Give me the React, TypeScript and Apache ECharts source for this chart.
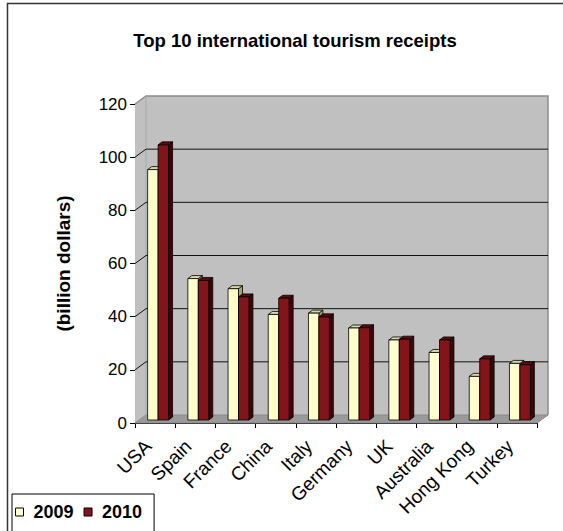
import React, { useEffect, useRef } from "react";
import * as echarts from "echarts";

// Receipts in billions of US dollars
const countries = ["USA", "Spain", "France", "China", "Italy", "Germany", "UK", "Australia", "Hong Kong", "Turkey"];
const receipts2009 = [94.2, 53.2, 49.4, 39.7, 40.2, 34.6, 30.1, 25.4, 16.4, 21.3];
const receipts2010 = [103.5, 52.5, 46.3, 45.8, 38.8, 34.7, 30.4, 30.1, 23.0, 20.8];
const yearNames = ["2009", "2010"];
const yTicks = [0, 20, 40, 60, 80, 100, 120];

const FONT = "'Liberation Sans', Arial, sans-serif";

// Depth of the room (back wall relative to the front plane)
const WALL_DX = 11;
const WALL_DY = -8;
// Bars stand slightly behind the front edge of the floor
const BAR_SHIFT_X = 3;
const BAR_SHIFT_Y = -3;
// Depth of each bar
const BAR_DX = 4;
const BAR_DY = -3;

const palettes = [
  { front: "#ffffcc", top: "#d9d9ad", side: "#a3a37a" },
  { front: "#82141a", top: "#5e0c10", side: "#3c0608" },
];

function roomRenderer(params: any, api: any) {
  const cs = params.coordSys;
  const x = cs.x;
  const y = cs.y;
  const w = cs.width;
  const h = cs.height;
  const children: any[] = [];
  // left side wall
  children.push({
    type: "polygon",
    shape: { points: [[x, y], [x + WALL_DX, y + WALL_DY], [x + WALL_DX, y + h + WALL_DY], [x, y + h]] },
    style: { fill: "#c0c0c0", stroke: null },
  });
  // back wall
  children.push({
    type: "rect",
    shape: { x: x + WALL_DX, y: y + WALL_DY, width: w, height: h },
    style: { fill: "#c0c0c0", stroke: null },
  });
  // floor
  children.push({
    type: "polygon",
    shape: { points: [[x, y + h], [x + w, y + h], [x + w + WALL_DX, y + h + WALL_DY], [x + WALL_DX, y + h + WALL_DY]] },
    style: { fill: "#9a9a9a", stroke: "#8a8a8a", lineWidth: 1 },
  });
  // wall edges
  children.push({
    type: "polyline",
    shape: { points: [[x, y], [x + WALL_DX, y + WALL_DY], [x + w + WALL_DX, y + WALL_DY], [x + w + WALL_DX, y + h + WALL_DY]] },
    style: { stroke: "#8c8c8c", lineWidth: 1.5, fill: null },
  });
  children.push({
    type: "line",
    shape: { x1: x + WALL_DX, y1: y + WALL_DY, x2: x + WALL_DX, y2: y + h + WALL_DY },
    style: { stroke: "#a8a8a8", lineWidth: 1 },
  });
  // gridlines running along the side wall and the back wall
  yTicks.slice(1, -1).forEach((v) => {
    const gy = api.coord([0, v])[1];
    children.push({
      type: "polyline",
      shape: { points: [[x, gy], [x + WALL_DX, gy + WALL_DY], [x + w + WALL_DX, gy + WALL_DY]] },
      style: { stroke: "#111", lineWidth: 1, fill: null },
    });
  });
  return { type: "group", children };
}

function barRenderer(seriesIdx: number) {
  const pal = palettes[seriesIdx];
  return (params: any, api: any) => {
    const cat = api.value(0);
    const val = api.value(1);
    const base = api.coord([cat, 0]);
    const top = api.coord([cat, val]);
    const band = api.size([1, 0])[0];
    const bw = band * 0.26;
    const x = base[0] - bw + BAR_SHIFT_X + seriesIdx * bw;
    const yb = base[1] + BAR_SHIFT_Y;
    const yt = top[1] + BAR_SHIFT_Y;
    const edge = { stroke: "#000", lineWidth: 0.8 };
    return {
      type: "group",
      children: [
        {
          type: "polygon",
          shape: { points: [[x + bw, yt], [x + bw + BAR_DX, yt + BAR_DY], [x + bw + BAR_DX, yb + BAR_DY], [x + bw, yb]] },
          style: { fill: pal.side, ...edge },
        },
        {
          type: "polygon",
          shape: { points: [[x, yt], [x + bw, yt], [x + bw + BAR_DX, yt + BAR_DY], [x + BAR_DX, yt + BAR_DY]] },
          style: { fill: pal.top, ...edge },
        },
        {
          type: "rect",
          shape: { x, y: yt, width: bw, height: yb - yt },
          style: { fill: pal.front, ...edge },
        },
      ],
    };
  };
}

export default function App() {
  const ref = useRef<HTMLDivElement>(null);

  useEffect(() => {
    document.body.style.margin = "0";
    const chart = echarts.init(ref.current!, undefined, { renderer: "svg" });
    const yearData = [receipts2009, receipts2010];
    chart.setOption({
      animation: false,
      backgroundColor: "#ffffff",
      title: {
        text: "Top 10 international tourism receipts",
        left: 295,
        textAlign: "center",
        top: 31,
        padding: 0,
        textStyle: { fontFamily: FONT, fontSize: 18.5, fontWeight: "bold", color: "#000" },
      },
      legend: {
        data: yearNames,
        left: 12,
        top: 494,
        orient: "horizontal",
        padding: [9, 12, 30, 3],
        itemGap: 10,
        itemWidth: 8,
        itemHeight: 8,
        icon: "rect",
        borderColor: "#000",
        borderWidth: 1,
        backgroundColor: "#fff",
        itemStyle: { borderColor: "#000", borderWidth: 1 },
        textStyle: { fontFamily: FONT, fontSize: 18, fontWeight: "bold", color: "#000", padding: [0, 0, 0, 5] },
      },
      grid: { left: 135, right: 26, top: 104, bottom: 108, containLabel: false },
      xAxis: {
        type: "category",
        data: countries,
        boundaryGap: true,
        axisLine: { show: true, lineStyle: { color: "#000", width: 1 } },
        axisTick: { show: true, length: 5, lineStyle: { color: "#000" } },
        axisLabel: {
          interval: 0,
          rotate: 45,
          margin: 13,
          padding: [0, 10, 0, 0],
          fontFamily: FONT,
          fontSize: 19,
          color: "#000",
        },
        splitLine: { show: false },
      },
      yAxis: {
        type: "value",
        min: yTicks[0],
        max: yTicks[yTicks.length - 1],
        interval: 20,
        name: "(billion dollars)",
        nameLocation: "middle",
        nameRotate: 90,
        nameGap: 62,
        nameTextStyle: { fontFamily: FONT, fontSize: 19, fontWeight: "bold", color: "#000" },
        axisLine: { show: true, lineStyle: { color: "#000", width: 1 } },
        axisTick: { show: true, length: 5, lineStyle: { color: "#000" } },
        axisLabel: { margin: 8, fontFamily: FONT, fontSize: 17, color: "#000" },
        splitLine: { show: false },
      },
      graphic: [
        {
          type: "rect",
          shape: { x: 7.5, y: 3.5, width: 620, height: 600 },
          style: { fill: null, stroke: "#333", lineWidth: 1.5 },
          silent: true,
          z: 100,
        },
      ],
      series: [
        {
          type: "custom",
          name: "room",
          silent: true,
          z: 1,
          renderItem: roomRenderer,
          data: [[0, 0]],
        },
        ...yearNames.map((name, i) => ({
          type: "custom",
          name,
          z: 2 + i,
          itemStyle: { color: palettes[i].front, borderColor: "#000", borderWidth: 1 },
          renderItem: barRenderer(i),
          encode: { x: 0, y: 1 },
          data: yearData[i].map((v, idx) => [idx, v]),
        })),
      ],
    });
    return () => chart.dispose();
  }, []);

  return <div ref={ref} style={{ position: "absolute", left: 0, top: 0, width: 563, height: 531 }} />;
}
